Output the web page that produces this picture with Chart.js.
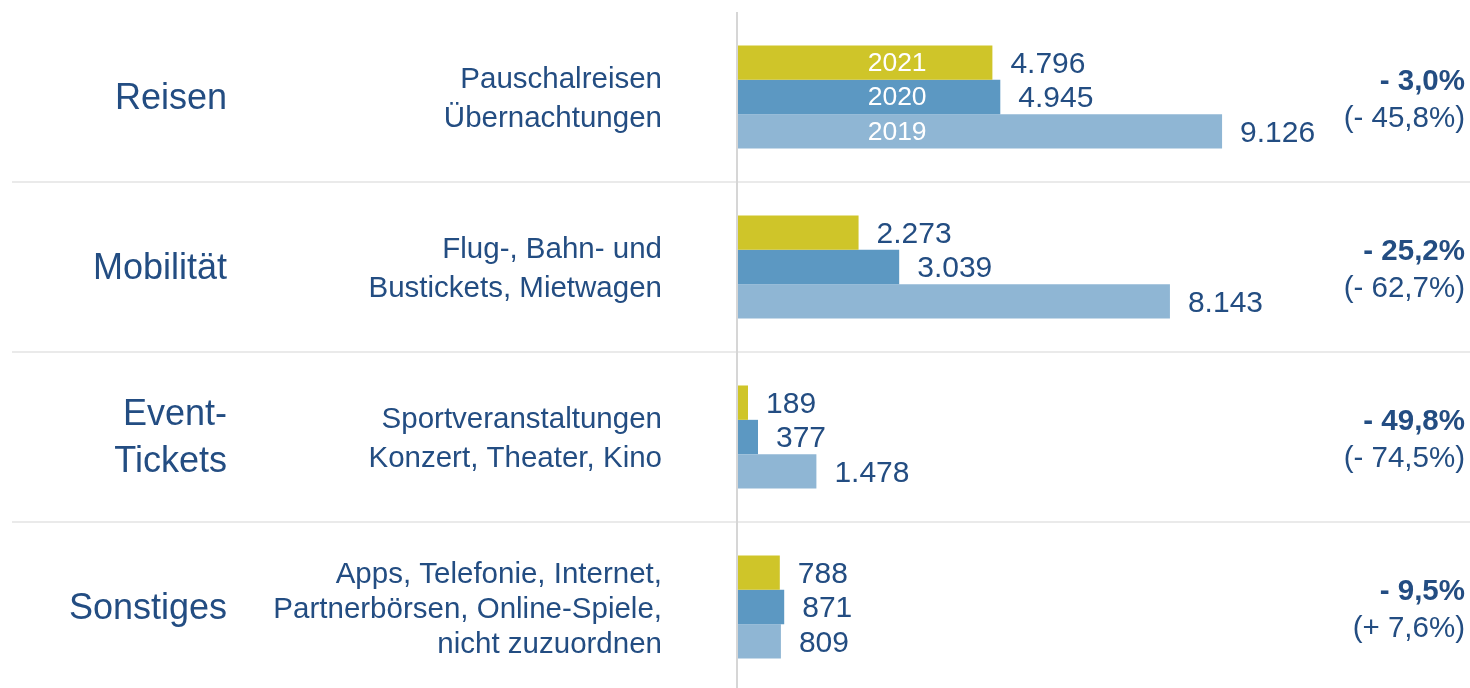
<!DOCTYPE html>
<html>
<head>
<meta charset="utf-8">
<script src="https://cdn.jsdelivr.net/npm/chart.js@4"></script>
<style>
  html, body { margin: 0; padding: 0; background: #fff; overflow: hidden; }
  #chart { display: block; }
</style>
</head>
<body>
<canvas id="chart" width="1470" height="700"></canvas>
<script>
const categories = [['Reisen'], ['Mobilität'], ['Event-', 'Tickets'], ['Sonstiges']];
const descriptions = [
    ['Pauschalreisen', 'Übernachtungen'],
    ['Flug-, Bahn- und', 'Bustickets, Mietwagen'],
    ['Sportveranstaltungen', 'Konzert, Theater, Kino'],
    ['Apps, Telefonie, Internet,', 'Partnerbörsen, Online-Spiele,', 'nicht zuzuordnen']
];
const years = ['2021', '2020', '2019'];
const values2021 = [4796, 2273, 189, 788];
const values2020 = [4945, 3039, 377, 871];
const values2019 = [9126, 8143, 1478, 809];
const changeVsPrev = ['- 3,0%', '- 25,2%', '- 49,8%', '- 9,5%'];
const changeVs2019 = ['(- 45,8%)', '(- 62,7%)', '(- 74,5%)', '(+ 7,6%)'];

const FONT = "'Liberation Sans', Arial, sans-serif";
const textColor = '#234d82';

function formatDe(n) {
    return String(n).replace(/\B(?=(\d{3})+(?!\d))/g, '.');
}

const textPlugin = {
    id: 'textPlugin',
    beforeDatasetsDraw(chart) {
        const ctx = chart.ctx;
        const yScale = chart.scales.y;
        const xScale = chart.scales.x;
        const area = chart.chartArea;
        ctx.save();
        // separators between categories
        ctx.strokeStyle = '#e3e3e3';
        ctx.lineWidth = 1.5;
        for (let i = 0; i < categories.length - 1; i++) {
            const y = (yScale.getPixelForValue(i) + yScale.getPixelForValue(i + 1)) / 2;
            ctx.beginPath();
            ctx.moveTo(12, y);
            ctx.lineTo(chart.width, y);
            ctx.stroke();
        }
        // vertical axis line
        const x0 = xScale.getPixelForValue(0) - 1;
        ctx.strokeStyle = '#d6d6d6';
        ctx.lineWidth = 2;
        ctx.beginPath();
        ctx.moveTo(x0, area.top);
        ctx.lineTo(x0, chart.height);
        ctx.stroke();
        ctx.restore();
    },
    afterDatasetsDraw(chart) {
        const ctx = chart.ctx;
        const yScale = chart.scales.y;
        const xScale = chart.scales.x;
        ctx.save();
        ctx.textBaseline = 'middle';
        ctx.fillStyle = textColor;

        categories.forEach((lines, i) => {
            const cy = yScale.getPixelForValue(i) + 2;
            // category name
            ctx.font = '36px ' + FONT;
            ctx.textAlign = 'right';
            const catGap = 47;
            lines.forEach((line, k) => {
                ctx.fillText(line, 227, cy + (k - (lines.length - 1) / 2) * catGap);
            });
            // description
            ctx.font = '29.5px ' + FONT;
            const desc = descriptions[i];
            const descGap = desc.length > 2 ? 35 : 39;
            const descOff = desc.length > 2 ? 1 : 0;
            desc.forEach((line, k) => {
                ctx.fillText(line, 662, cy + descOff + (k - (desc.length - 1) / 2) * descGap);
            });
            // change figures
            ctx.textAlign = 'right';
            ctx.font = 'bold 29.5px ' + FONT;
            ctx.fillText(changeVsPrev[i], 1465, cy - 17);
            ctx.font = '29.5px ' + FONT;
            ctx.fillText(changeVs2019[i], 1465, cy + 20);
        });

        // value labels
        chart.data.datasets.forEach((ds, d) => {
            const meta = chart.getDatasetMeta(d);
            ctx.textAlign = 'left';
            ctx.font = '30px ' + FONT;
            ctx.fillStyle = textColor;
            meta.data.forEach((bar, i) => {
                ctx.fillText(formatDe(ds.data[i]), bar.x + 18, bar.y + 2);
            });
            // year label inside first group
            const first = meta.data[0];
            ctx.fillStyle = '#ffffff';
            ctx.textAlign = 'center';
            ctx.font = '26.5px ' + FONT;
            ctx.fillText(years[d], xScale.getPixelForValue(3000), first.y + 1);
        });
        ctx.restore();
    }
};

new Chart(document.getElementById('chart'), {
    type: 'bar',
    data: {
        labels: categories.map(c => c.join('')),
        datasets: [
            { label: years[0], data: values2021, backgroundColor: '#cfc529' },
            { label: years[1], data: values2020, backgroundColor: '#5c98c2' },
            { label: years[2], data: values2019, backgroundColor: '#8fb6d4' }
        ]
    },
    options: {
        indexAxis: 'y',
        responsive: false,
        animation: false,
        devicePixelRatio: 1,
        datasets: {
            bar: {
                categoryPercentage: 0.606,
                barPercentage: 1,
                borderWidth: 0
            }
        },
        layout: {
            padding: { left: 738, right: 0, top: 12, bottom: 8 }
        },
        scales: {
            x: { display: false, min: 0, max: 13800 },
            y: { display: false }
        },
        plugins: {
            legend: { display: false },
            tooltip: { enabled: false }
        }
    },
    plugins: [textPlugin]
});
</script>
</body>
</html>
